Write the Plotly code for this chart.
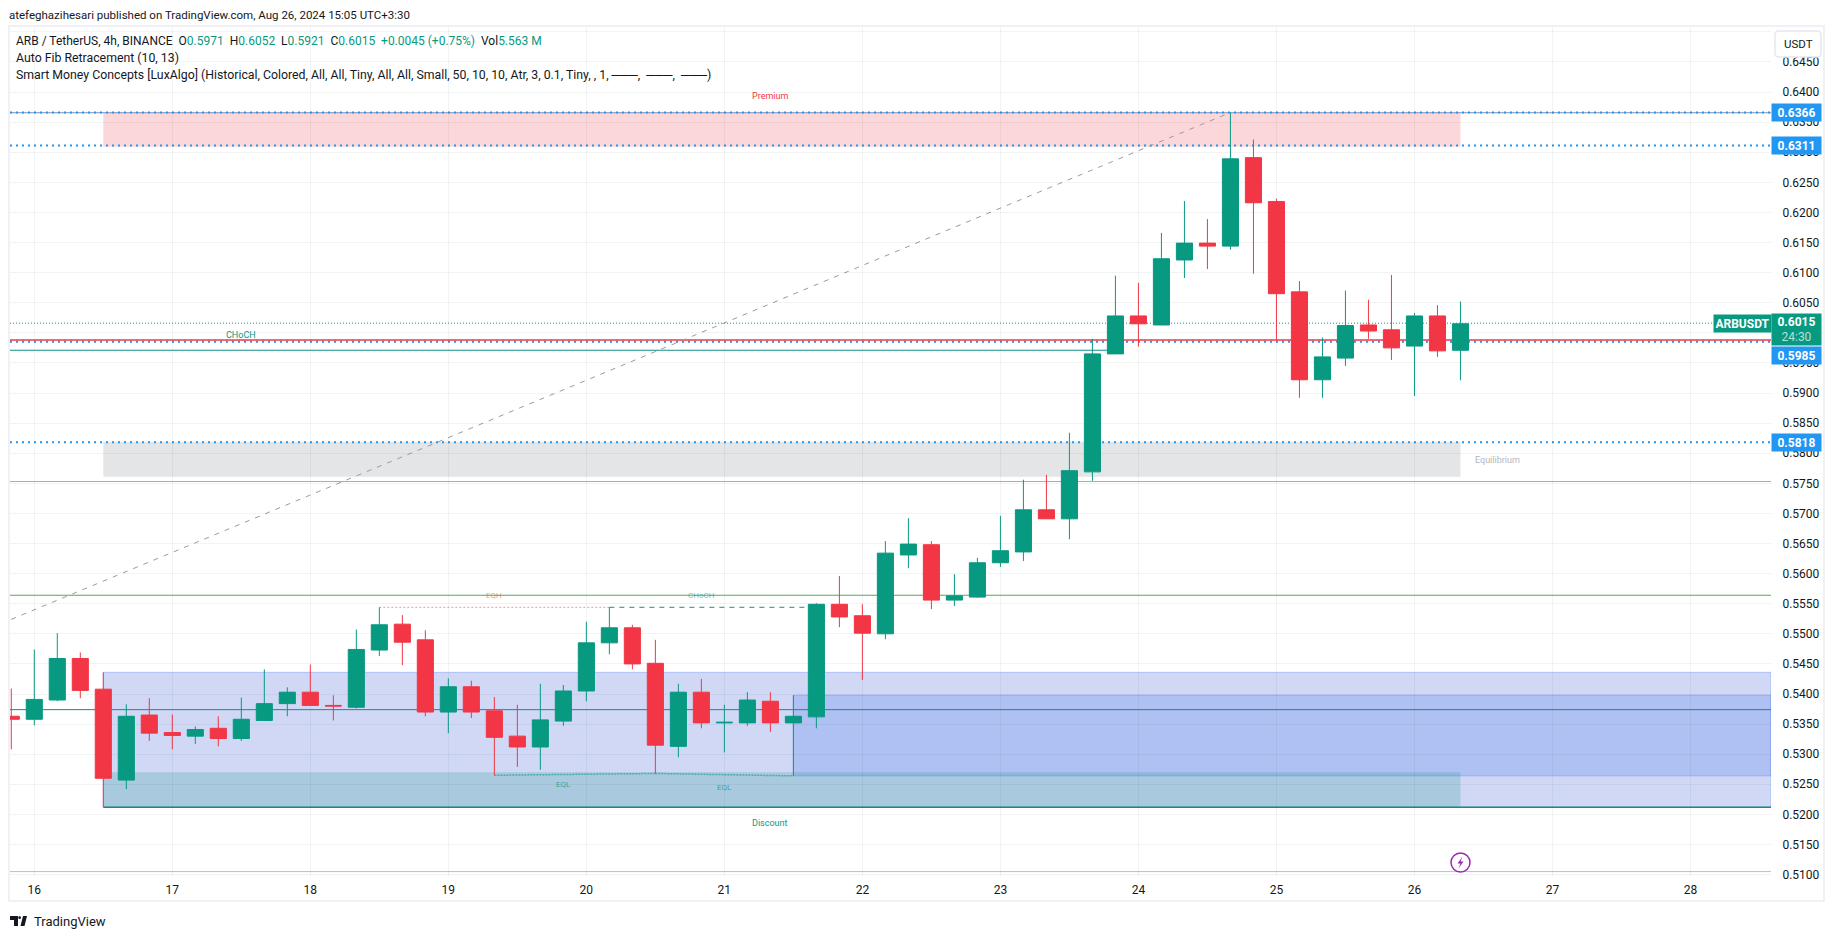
import plotly.graph_objects as go

# ---- data ----
bar_index = list(range(-1, 63))
opens = [.5363,.5358,.5390,.5459,.5408,.5257,.5365,.5336,.5330,.5343,.5326,.5356,.5384,.5403,.5381,.5378,
         .5473,.5516,.5490,.5370,.5412,.5372,.5330,.5312,.5355,.5405,.5485,.5510,.5451,.5313,.5403,.5352,
         .5352,.5388,.5352,.5362,.5549,.5530,.5500,.5631,.5648,.5556,.5561,.5618,.5636,.5706,.5691,.5769,
         .5965,.6028,.6013,.6121,.6149,.6144,.6291,.6218,.6068,.5922,.5958,.6013,.6005,.5978,.6028,.5971]
highs = [.5409,.5474,.5501,.5469,.5436,.5383,.5393,.5366,.5346,.5363,.5394,.5441,.5411,.5449,.5398,.5507,
         .5544,.5531,.5506,.5426,.5422,.5395,.5382,.5417,.5415,.5520,.5544,.5515,.5490,.5417,.5425,.5382,
         .5403,.5403,.5398,.5551,.5596,.5549,.5654,.5692,.5654,.5599,.5626,.5696,.5756,.5764,.5834,.5990,
         .6095,.6083,.6166,.6219,.6189,.6366,.6321,.6223,.6086,.5992,.6070,.6055,.6096,.6033,.6046,.6052]
lows = [.5308,.5348,.5388,.5393,.5212,.5242,.5322,.5308,.5317,.5313,.5322,.5356,.5363,.5381,.5356,.5376,
        .5463,.5448,.5363,.5335,.5360,.5265,.5279,.5274,.5347,.5388,.5466,.5441,.5268,.5295,.5343,.5303,
        .5347,.5337,.5264,.5343,.5511,.5423,.5491,.5609,.5541,.5546,.5560,.5611,.5621,.5691,.5657,.5754,
        .5965,.5977,.6013,.6091,.6106,.6138,.6098,.5988,.5892,.5892,.5945,.5990,.5955,.5895,.5960,.5921]
closes = [.5358,.5391,.5459,.5406,.5260,.5363,.5335,.5331,.5341,.5326,.5358,.5384,.5403,.5381,.5380,.5474,
          .5515,.5486,.5370,.5412,.5370,.5328,.5312,.5357,.5405,.5485,.5510,.5450,.5315,.5403,.5352,.5353,
          .5390,.5352,.5363,.5549,.5528,.5501,.5634,.5649,.5556,.5563,.5618,.5638,.5706,.5691,.5771,.5965,
          .6028,.6015,.6123,.6149,.6144,.6289,.6216,.6065,.5922,.5960,.6012,.6003,.5975,.6028,.5970,.6015]

day_labels = ["16","17","18","19","20","21","22","23","24","25","26","27","28"]
day_ticks = [0,6,12,18,24,30,36,42,48,54,60,66,72]
price_ticks = [.51,.515,.52,.525,.53,.535,.54,.545,.55,.555,.56,.565,.57,.575,.58,.585,.59,.595,.60,.605,
               .61,.615,.62,.625,.63,.635,.64,.645,.65]
price_labels = ["0.5100","0.5150","0.5200","0.5250","0.5300","0.5350","0.5400","0.5450","0.5500","0.5550",
                "0.5600","0.5650","0.5700","0.5750","0.5800","0.5850","0.5900","0.5950","0.6000","0.6050",
                "0.6100","0.6150","0.6200","0.6250","0.6300","0.6350","0.6400","0.6450",""]

# levels
fib_top, fib_mid, fib_low = 0.6366, 0.6311, 0.5818
last_close, alert_level = 0.6016, 0.5985
red_level, teal_choch = 0.5988, 0.5971
green_a, green_b, teal_mid, bottom_level, floor_level = 0.5753, 0.5564, 0.5374, 0.5212, 0.5105
premium_box = (0.6366, 0.6309)
equil_box = (0.5819, 0.5761)
discount_box = (0.5270, 0.5212)
ob_wide = (0.5436, 0.5212)
ob_recent = (0.5398, 0.5264)
eqh_level = 0.5544
eql_points = [(20, .5265), (27, .5268), (33, .5264)]
fib_line = [(-1, .5524), (52, .6366)]

UP, DOWN, BLUE = "#089981", "#F23645", "#2196F3"
INK = "#131722"
FONT = "Roboto"
W, H = 1835, 939
XL, XR, YT, YB = 10, 1771, 27, 877
X0 = -1.056
X1 = 75.5
Y0, Y1 = 0.5096, 0.6508

def px(x): return x / W
def py(y): return 1 - y / H

fig = go.Figure(go.Candlestick(
    x=bar_index, open=opens, high=highs, low=lows, close=closes,
    whiskerwidth=0,
    increasing=dict(line=dict(color=UP, width=1), fillcolor=UP),
    decreasing=dict(line=dict(color=DOWN, width=1), fillcolor=DOWN),
    hoverinfo="skip", showlegend=False))

shapes = []
def box(x0, x1, rng, fill, line=None):
    shapes.append(dict(type="rect", xref="x", yref="y", x0=x0, x1=x1, y0=rng[1], y1=rng[0],
                       fillcolor=fill, layer="below",
                       line=dict(width=1 if line else 0, color=line or "rgba(0,0,0,0)")))
def hline(x0, x1, y, color, width=1, dash="solid", y2=None):
    shapes.append(dict(type="line", xref="x", yref="y", x0=x0, x1=x1, y0=y, y1=y if y2 is None else y2,
                       layer="below", line=dict(color=color, width=width, dash=dash)))

box(3, 62, premium_box, "rgba(242,54,69,0.2)")
box(3, 62, equil_box, "rgba(120,123,134,0.2)")
box(3, X1, ob_wide, "rgba(21,60,210,0.2)", "rgba(33,87,243,0.25)")
box(33, X1, ob_recent, "rgba(45,105,230,0.2)", "rgba(33,87,243,0.25)")
box(3, 62, discount_box, "rgba(15,145,135,0.2)")

hline(X0, X1, fib_top - 0.00004, "#7e90bc", 1)
hline(X0, X1, fib_top, BLUE, 2, "2px,4px")
hline(X0, X1, fib_mid, BLUE, 2, "2px,4px")
hline(X0, X1, fib_low, BLUE, 2, "2px,4px")
hline(X0, X1, alert_level, BLUE, 2, "2px,4px")
hline(X0, 73, last_close, UP, 1, "1px,2px")
hline(X0, X1, red_level, DOWN, 1.5)
hline(X0, 47, teal_choch, "#178f86", 1)
hline(X0, X1, green_a, "#8cc08c", 1)
hline(X0, X1, green_b, "#55aa55", 1.2)
hline(X0, X1, teal_mid, "#1a8a80", 1)
hline(3, X1, bottom_level, "#1a8a80", 1.5)
hline(X0, X1, floor_level, "#a4c6dc", 1)
hline(15, 25, eqh_level, "rgba(242,54,69,0.55)", 1, "2px,2px")
hline(25, 34, eqh_level, UP, 1, "5px,5px")
for (a, b) in zip(eql_points[:-1], eql_points[1:]):
    hline(a[0], b[0], a[1], "rgba(8,153,129,0.6)", 1.5, "2px,1px", y2=b[1])
hline(fib_line[0][0], fib_line[1][0], fib_line[0][1], "#9a9aa2", 1, "5px,6px", y2=fib_line[1][1])

# page frame and USDT button, in page pixels
def page_rect(x0, y0, x1, y1, fill, line, lw=1):
    shapes.append(dict(type="rect", xref="paper", yref="paper", x0=px(x0), x1=px(x1), y0=py(y1), y1=py(y0),
                       fillcolor=fill, line=dict(color=line, width=lw), layer="above"))
page_rect(9, 26, 1824, 901, "rgba(0,0,0,0)", "#f0f0f5", 2)
r = 4
bx0, by0, bx1, by1 = 1775, 31, 1821, 57
shapes.append(dict(type="path", xref="paper", yref="paper", layer="above", fillcolor="#ffffff",
                   line=dict(color="#e6e8f0", width=1.5),
                   path=(f"M {px(bx0+r)} {py(by0)} L {px(bx1-r)} {py(by0)} Q {px(bx1)} {py(by0)} {px(bx1)} {py(by0+r)} "
                         f"L {px(bx1)} {py(by1-r)} Q {px(bx1)} {py(by1)} {px(bx1-r)} {py(by1)} "
                         f"L {px(bx0+r)} {py(by1)} Q {px(bx0)} {py(by1)} {px(bx0)} {py(by1-r)} "
                         f"L {px(bx0)} {py(by0+r)} Q {px(bx0)} {py(by0)} {px(bx0+r)} {py(by0)} Z")))
# lightning badge
cx, cy, cr = 1460.5, 862.5, 9.5
shapes.append(dict(type="circle", xref="paper", yref="paper", layer="above", fillcolor="#ffffff",
                   line=dict(color="#9C27B0", width=1.5),
                   x0=px(cx-cr), x1=px(cx+cr), y0=py(cy+cr), y1=py(cy-cr)))
bolt = [(2,-6),(-3,1),(0,1),(-2,6),(3,-1),(0,-1)]
shapes.append(dict(type="path", xref="paper", yref="paper", layer="above", fillcolor="#9C27B0",
                   line=dict(width=0),
                   path="M " + " L ".join(f"{px(cx+a)} {py(cy+b)}" for a, b in bolt) + " Z"))
# logo mark
logo = [(10,916),(18,916),(18,926),(14,926),(14,920),(10,920)]
shapes.append(dict(type="path", xref="paper", yref="paper", layer="above", fillcolor=INK, line=dict(width=0),
                   path="M " + " L ".join(f"{px(a)} {py(b)}" for a, b in logo) + " Z"))
shapes.append(dict(type="path", xref="paper", yref="paper", layer="above", fillcolor=INK, line=dict(width=0),
                   path=f"M {px(20.5)} {py(926)} L {px(23)} {py(916)} L {px(27)} {py(916)} L {px(24.5)} {py(926)} Z"))
shapes.append(dict(type="circle", xref="paper", yref="paper", layer="above", fillcolor=INK, line=dict(width=0),
                   x0=px(18.3), x1=px(21), y0=py(919), y1=py(916.3)))

ann = []
def text_px(x, y, s, size=11, color=INK, anchor="left", family=FONT):
    ann.append(dict(xref="paper", yref="paper", x=px(x), y=py(y), text=s, showarrow=False, xanchor=anchor,
                    yanchor="middle", align="left", borderpad=0,
                    font=dict(family=family, size=size, color=color)))
def label(i, y, s, size, color):
    ann.append(dict(xref="x", yref="paper", x=i, y=py(y), text=s, showarrow=False, xanchor="center",
                    yanchor="middle", font=dict(family=FONT, size=size, color=color), borderpad=0))
def badge(y_val, s, fill, shift=0, h=17, x=1796.5, w=49, color="#ffffff", size=12):
    ann.append(dict(xref="paper", yref="y", x=px(x), y=y_val, yshift=shift, text=s, showarrow=False,
                    xanchor="center", yanchor="middle", width=w, height=h, bgcolor=fill, borderpad=0,
                    font=dict(family=FONT, size=size, color=color)))

g = lambda s: f'<span style="color:{UP}">{s}</span>'
text_px(8, 15, "atefeghazihesari published on TradingView.com, Aug 26, 2024 15:05 UTC+3:30", 11.5)
text_px(15, 41, "ARB / TetherUS, 4h, BINANCE&nbsp;&nbsp;O" + g("0.5971") + "&nbsp;&nbsp;H" + g("0.6052") + "&nbsp;&nbsp;L" + g("0.5921")
        + "&nbsp;&nbsp;C" + g("0.6015") + "&nbsp;&nbsp;" + g("+0.0045 (+0.75%)") + "&nbsp;&nbsp;Vol" + g("5.563 M"), 12)
text_px(15, 58.5, "Auto Fib Retracement (10, 13)", 12.3)
text_px(15, 75, "Smart Money Concepts [LuxAlgo] (Historical, Colored, All, All, Tiny, All, All, Small, 50, 10, 10, Atr, 3, 0.1, Tiny, , 1, ───,&nbsp;&nbsp;───,&nbsp;&nbsp;───)", 12.3)
text_px(1798, 44, "USDT", 11.5, INK, "center")
text_px(33, 921, "TradingView", 13, INK)

label(32, 96, "Premium", 9, "#F23645")
label(32, 822.5, "Discount", 9, UP)
label(63.6, 460, "Equilibrium", 9, "#b2b5be")
label(9, 334.7, "CHoCH", 9, UP)
label(29, 595.7, "CHoCH", 8, "rgba(8,153,129,0.6)")
label(20, 595.7, "EQH", 8, "rgba(242,54,69,0.55)")
label(23, 784.3, "EQL", 8, "rgba(8,153,129,0.75)")
label(30, 787.7, "EQL", 8, "rgba(8,153,129,0.75)")

badge(fib_top, "<b>0.6366</b>", BLUE)
badge(fib_mid, "<b>0.6311</b>", BLUE)
badge(fib_low, "<b>0.5818</b>", BLUE)
badge(alert_level, "<b>0.5985</b>", BLUE, shift=-13.5)
badge(last_close, '<b>0.6015</b><br><span style="color:#b5e0d8">24:30</span>', UP, shift=-6.5, h=31)
badge(last_close, "<b>ARBUSDT</b>", UP, x=1742.5, w=57)

fig.update_layout(
    width=W, height=H, autosize=False,
    margin=dict(l=0, r=0, t=0, b=0, pad=0, autoexpand=False),
    paper_bgcolor="#ffffff", plot_bgcolor="#ffffff",
    boxgap=0.3, boxgroupgap=0, showlegend=False, hovermode=False,
    font=dict(family=FONT, size=12, color=INK),
    shapes=shapes, annotations=ann,
    xaxis=dict(domain=[px(XL), px(XR)], range=[X0, X1], tickmode="array", tickvals=day_ticks, ticktext=day_labels,
               showgrid=True, gridcolor="rgba(42,46,57,0.06)", gridwidth=1, zeroline=False, showline=False,
               rangeslider=dict(visible=False), ticks="outside", ticklen=2, tickcolor="rgba(0,0,0,0)", automargin=False,
               tickfont=dict(size=12, color=INK)),
    yaxis=dict(domain=[py(YB), py(YT)], range=[Y0, Y1], side="right", tickmode="array", tickvals=price_ticks,
               ticktext=price_labels, showgrid=True, gridcolor="rgba(42,46,57,0.06)", gridwidth=1, zeroline=False,
               showline=False, ticks="outside", ticklen=8, tickcolor="rgba(0,0,0,0)", automargin=False,
               tickfont=dict(size=12, color=INK)),
)
fig.write_html("out.html", config=dict(displayModeBar=False), post_script="document.body.style.margin='0';")
